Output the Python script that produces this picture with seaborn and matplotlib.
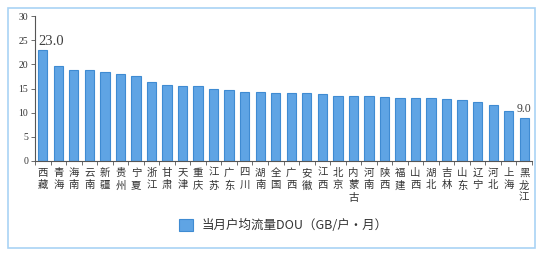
import matplotlib
matplotlib.use("Agg")
import matplotlib.pyplot as plt
import seaborn as sns
import pandas as pd
from matplotlib.patches import Rectangle

provinces = ["西藏", "青海", "海南", "云南", "新疆", "贵州", "宁夏", "浙江", "甘肃", "天津",
             "重庆", "江苏", "广东", "四川", "湖南", "全国", "广西", "安徽", "江西", "北京",
             "内蒙古", "河南", "陕西", "福建", "山西", "湖北", "吉林", "山东", "辽宁", "河北",
             "上海", "黑龙江"]
dou = [23.0, 19.7, 18.8, 18.8, 18.4, 18.1, 17.5, 16.3, 15.7, 15.5,
       15.5, 14.8, 14.6, 14.2, 14.2, 14.0, 14.0, 14.0, 13.8, 13.4,
       13.4, 13.4, 13.2, 13.0, 13.0, 13.0, 12.8, 12.6, 12.2, 11.5,
       10.3, 9.0]
series_name = "当月户均流量DOU（GB/户•月）"
y_ticks = [0, 5, 10, 15, 20, 25, 30]

df = pd.DataFrame({"省份": provinces, "DOU": dou})

sns.set_theme(style="white")
plt.rcParams["font.family"] = ["Noto Sans CJK SC", "DejaVu Sans"]

fig = plt.figure(figsize=(5.5, 2.59), dpi=100)
ax = fig.add_axes([35 / 550, 1 - 161 / 259, 497 / 550, 145 / 259])

bar_color = "#5fa4e4"
sns.barplot(data=df, x="省份", y="DOU", color=bar_color, width=0.6,
            edgecolor="#3f8bd2", linewidth=0.8, saturation=1, ax=ax,
            label=series_name)

ax.set_xlim(-0.5, len(provinces) - 0.5)
ax.set_ylim(0, 30)
ax.set_yticks(y_ticks)
ax.set_yticklabels([str(t) for t in y_ticks], family="Liberation Serif",
                   fontsize=7, color="#333333")
ax.set_xlabel("")
ax.set_ylabel("")

# category labels written vertically, ticks placed at category boundaries
ax.set_xticks([i - 0.5 for i in range(len(provinces) + 1)])
ax.set_xticklabels([])
ax.set_xticks(range(len(provinces)), minor=True)
ax.set_xticklabels(["\n".join(p) for p in provinces], minor=True,
                   fontsize=7.5, color="#333333", linespacing=1.3, va="top")
ax.tick_params(axis="x", which="major", direction="out", length=3, width=0.6,
               color="#555555", bottom=True)
ax.tick_params(axis="x", which="minor", length=0, pad=5, bottom=True)
ax.tick_params(axis="y", direction="out", length=3, width=0.6, color="#555555",
               left=True, pad=2)

for side in ["top", "right"]:
    ax.spines[side].set_visible(False)
for side in ["left", "bottom"]:
    ax.spines[side].set_color("#555555")
    ax.spines[side].set_linewidth(0.8)

# value labels for the highest and lowest bars
ax.text(-0.3, dou[0] + 0.4, f"{dou[0]:.1f}", ha="left", va="bottom",
        family="Liberation Serif", fontsize=10.5, color="#404040")
ax.text(len(dou) - 1, dou[-1] + 0.5, f"{dou[-1]:.1f}", ha="center", va="bottom",
        family="Liberation Serif", fontsize=8.5, color="#404040")

leg = ax.legend(loc="center", bbox_to_anchor=(0.5, -0.445), frameon=False,
                handlelength=1.1, handleheight=1.1, handletextpad=0.7,
                prop={"family": ["Noto Sans CJK SC", "DejaVu Sans"], "size": 9})
for t in leg.get_texts():
    t.set_color("#333333")

# light blue frame around the whole chart
fig.patches.append(Rectangle((8 / 550, 1 - 248 / 259), 527 / 550, 240 / 259,
                             transform=fig.transFigure, fill=False,
                             edgecolor="#a9d3f5", linewidth=1.2))

fig.savefig("out.png", dpi=100)
